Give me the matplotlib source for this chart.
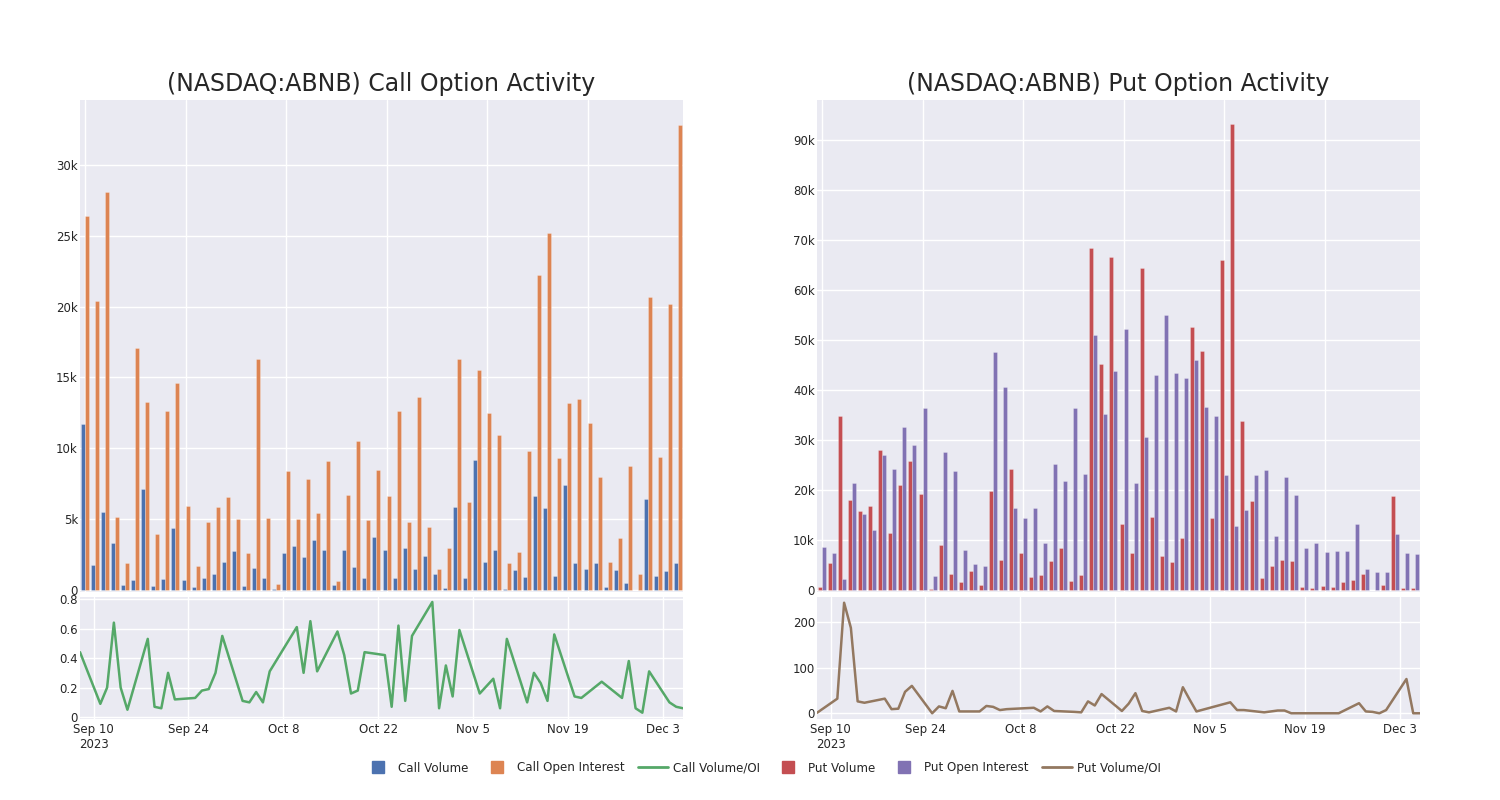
import matplotlib
matplotlib.use("Agg")
import matplotlib.pyplot as plt
import numpy as np
import pandas as pd
import seaborn as sns
from matplotlib.lines import Line2D

sns.set_theme(style="darkgrid")
plt.rcParams["font.family"] = ["DejaVu Sans"]

# trading days shown in both panels
dates = [
    "2023-09-08", "2023-09-11", "2023-09-12", "2023-09-13", "2023-09-14", "2023-09-15",
    "2023-09-18", "2023-09-19", "2023-09-20", "2023-09-21", "2023-09-22",
    "2023-09-25", "2023-09-26", "2023-09-27", "2023-09-28", "2023-09-29",
    "2023-10-02", "2023-10-03", "2023-10-04", "2023-10-05", "2023-10-06",
    "2023-10-10", "2023-10-11", "2023-10-12", "2023-10-13",
    "2023-10-16", "2023-10-17", "2023-10-18", "2023-10-19", "2023-10-20",
    "2023-10-23", "2023-10-24", "2023-10-25", "2023-10-26", "2023-10-27",
    "2023-10-30", "2023-10-31", "2023-11-01", "2023-11-02", "2023-11-03",
    "2023-11-06", "2023-11-08", "2023-11-09", "2023-11-10",
    "2023-11-13", "2023-11-14", "2023-11-15", "2023-11-16", "2023-11-17",
    "2023-11-20", "2023-11-21", "2023-11-24",
    "2023-11-27", "2023-11-28", "2023-11-29", "2023-11-30", "2023-12-01",
    "2023-12-04", "2023-12-05", "2023-12-06",
]

call_volume = [11680, 1740, 5520, 3310, 350, 680, 7100, 260, 750, 4350, 680, 210,
               820, 1100, 1950, 2730, 260, 1570, 820, 40, 2610, 3080, 2350, 3550,
               2840, 350, 2800, 1650, 870, 3740, 2800, 870, 2980, 1460, 2420, 1150,
               140, 5850, 850, 9190, 2000, 2800, 70, 1430, 940, 6630, 5760, 990,
               7400, 1880, 1480, 1900, 210, 1390, 490, 20, 6440, 960, 1360, 1880]
call_oi = [26370, 20420, 28080, 5150, 1880, 17060, 13230, 3920, 12640, 14590, 5950,
           1690, 4790, 5880, 6580, 4980, 2590, 16290, 5050, 380, 8390, 5000, 7800,
           5450, 9070, 610, 6720, 10500, 4940, 8440, 6630, 12620, 4770, 13650, 4440,
           1500, 2940, 16310, 6230, 15530, 12500, 10900, 1930, 2700, 9800, 22210,
           25190, 9280, 13210, 13470, 11800, 7970, 1970, 3690, 8740, 1100, 20680,
           9350, 20190, 32850]
call_ratio = [0.44, 0.09, 0.20, 0.64, 0.20, 0.05, 0.53, 0.07, 0.06, 0.30, 0.12,
              0.13, 0.18, 0.19, 0.30, 0.55, 0.11, 0.10, 0.17, 0.10, 0.31, 0.61,
              0.30, 0.65, 0.31, 0.58, 0.42, 0.16, 0.18, 0.44, 0.42, 0.07, 0.62,
              0.11, 0.55, 0.78, 0.06, 0.35, 0.14, 0.59, 0.16, 0.26, 0.06, 0.53,
              0.10, 0.30, 0.23, 0.11, 0.56, 0.14, 0.13, 0.24, 0.13, 0.38, 0.06,
              0.03, 0.31, 0.10, 0.07, 0.06]

put_volume = [670, 5470, 34930, 17940, 15800, 16870, 27940, 11470, 21000, 25800,
              19140, 270, 9000, 3200, 1600, 3800, 1070, 19740, 6000, 24270, 7400,
              2530, 3070, 5740, 8340, 1870, 3070, 68560, 45290, 66700, 13140, 7340,
              64500, 14610, 6800, 5670, 10470, 52630, 47760, 14340, 66030, 93250,
              33880, 17880, 2330, 4870, 6000, 5800, 600, 330, 800, 600, 1670, 1930,
              3130, 0, 930, 18880, 330, 470]
put_oi = [8600, 7330, 2270, 21340, 15140, 11940, 26940, 24200, 32670, 29000, 36340,
          2800, 27600, 23740, 8070, 5130, 4800, 47670, 40550, 16400, 14470, 16400,
          9400, 25140, 21810, 36340, 23140, 51020, 35280, 43750, 52230, 21340,
          30680, 42950, 55100, 43420, 42420, 46090, 36620, 34880, 22950, 12810,
          16070, 22950, 23950, 10800, 22610, 18940, 8340, 9400, 7600, 7870, 7870,
          13270, 4140, 3600, 3600, 11270, 7470, 7270]
put_ratio = [1, 32, 242, 187, 26, 23, 32, 9, 10, 47, 60, 0, 15, 11, 49, 4, 4, 16,
             14, 7, 9, 12, 4, 15, 5, 3, 2, 26, 17, 42, 5, 21, 44, 5, 2, 12, 4, 57,
             30, 4, 16, 24, 7, 7, 2, 4, 6, 6, 0, 0, 0, 0, 22, 4, 3, 0, 7, 75, 0, 0]

call_ticks = [0, 5000, 10000, 15000, 20000, 25000, 30000]
call_tick_labels = ["0", "5k", "10k", "15k", "20k", "25k", "30k"]
put_ticks = [0, 10000, 20000, 30000, 40000, 50000, 60000, 70000, 80000, 90000]
put_tick_labels = ["0", "10k", "20k", "30k", "40k", "50k", "60k", "70k", "80k", "90k"]
date_ticks = ["2023-09-10", "2023-09-24", "2023-10-08", "2023-10-22",
              "2023-11-05", "2023-11-19", "2023-12-03"]
date_tick_labels = ["Sep 10\n2023", "Sep 24", "Oct 8", "Oct 22", "Nov 5", "Nov 19", "Dec 3"]

BLUE, ORANGE, GREEN = "#4C72B0", "#DD8452", "#55A868"
RED, PURPLE, BROWN = "#C44E52", "#8172B3", "#937860"
TXT = "#262626"

fig = plt.figure(figsize=(15, 8), dpi=100)


def panel(x0, title, vol, oi, ratio, cv, co, cr, bar_top, bar_bottom,
          bticks, blabels, line_lim, lticks, llabels):
    axb = fig.add_axes([x0, 0.26, 0.402, 0.615])
    axl = fig.add_axes([x0, 0.101, 0.402, 0.153])

    idx = np.arange(len(dates))
    edge = (1, 1, 1, 0.35)
    axb.bar(idx - 0.2, vol, width=0.4, color=cv, edgecolor=edge, linewidth=0.5)
    axb.bar(idx + 0.2, oi, width=0.4, color=co, edgecolor=edge, linewidth=0.5)
    axb.set_xlim(-0.5, len(dates) - 0.5)
    axb.set_ylim(bar_bottom, bar_top)
    axb.set_xticks(idx[::10])
    axb.set_xticklabels([])
    axb.set_yticks(bticks)
    axb.set_yticklabels(blabels)

    d = pd.to_datetime(dates)
    axl.plot(d, ratio, color=cr, lw=1.8)
    axl.set_xlim(d[0], d[-1])
    axl.set_ylim(*line_lim)
    axl.set_xticks(pd.to_datetime(date_ticks))
    axl.set_xticklabels(date_tick_labels)
    axl.set_yticks(lticks)
    axl.set_yticklabels(llabels)

    for ax in (axb, axl):
        ax.tick_params(axis="y", labelsize=8.5, pad=1.5, colors=TXT, length=0)
        ax.tick_params(axis="x", labelsize=8.5, pad=3, colors=TXT, length=0)
        ax.grid(color="white", lw=1)
        for s in ax.spines.values():
            s.set_visible(False)

    fig.text(x0 + 0.201, 0.895, title, ha="center", va="center",
             fontsize=17, color=TXT)


panel(80 / 1500, "(NASDAQ:ABNB) Call Option Activity", call_volume, call_oi,
      call_ratio, BLUE, ORANGE, GREEN, 34580, -150, call_ticks, call_tick_labels,
      (-0.014, 0.815), [0, 0.2, 0.4, 0.6, 0.8], ["0", "0.2", "0.4", "0.6", "0.8"])
panel(817 / 1500, "(NASDAQ:ABNB) Put Option Activity", put_volume, put_oi,
      put_ratio, RED, PURPLE, BROWN, 98100, -400, put_ticks, put_tick_labels,
      (-13, 255), [0, 100, 200], ["0", "100", "200"])

handles = [
    Line2D([], [], ls="none", marker="s", ms=8.5, color=BLUE, label="Call Volume"),
    Line2D([], [], ls="none", marker="s", ms=8.5, color=ORANGE, label="Call Open Interest"),
    Line2D([], [], color=GREEN, lw=2, label="Call Volume/OI"),
    Line2D([], [], ls="none", marker="s", ms=8.5, color=RED, label="Put Volume"),
    Line2D([], [], ls="none", marker="s", ms=8.5, color=PURPLE, label="Put Open Interest"),
    Line2D([], [], color=BROWN, lw=2, label="Put Volume/OI"),
]
leg = fig.legend(handles=handles, loc="center", bbox_to_anchor=(762 / 1500, 1 - 768 / 800),
                 ncol=6, frameon=False, fontsize=8.6, handlelength=2.5,
                 handletextpad=0.45, columnspacing=1.1)
for t in leg.get_texts():
    t.set_color(TXT)

fig.savefig("out.png", dpi=100)
